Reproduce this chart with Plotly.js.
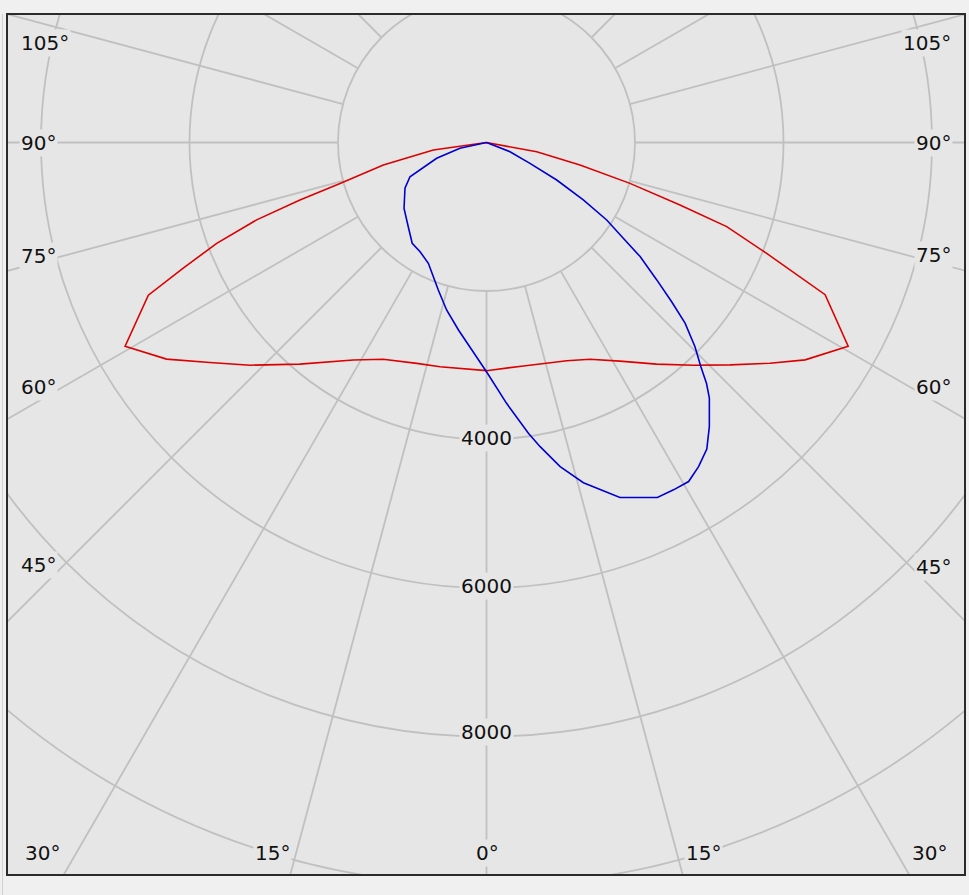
<!DOCTYPE html>
<html><head><meta charset="utf-8">
<script src="https://cdn.plot.ly/plotly-3.0.1.min.js"></script>
<style>
html,body{margin:0;padding:0;background:#f0f0f0;width:969px;height:895px;overflow:hidden;}
#edge{position:absolute;left:2px;top:14px;width:1px;height:881px;background:#d2d2d2;}
#frame{position:absolute;left:6px;top:13px;width:956px;height:859px;border:2px solid #2b2b2b;overflow:hidden;background:#e6e6e6;}
#plot{position:absolute;left:-522px;top:-873px;width:2001px;height:2001px;}
</style></head>
<body><div id="edge"></div><div id="frame"><div id="plot"></div></div>
<script>
// Gamma angles (deg, 0 = nadir, negative = left half) and luminous intensity (cd)
const redGamma = [-90, -82.0, -77.7, -74.4, -72.9, -71.4, -69.5, -67.5, -65.7, -60.6, -55.9, -51.5, -46.7, -40.1, -31.5, -25.5, -17.5, -11.7, 0, 9.4, 20.2, 25.5, 31.4, 37.5, 42.9, 47.6, 52.1, 55.7, 60.6, 65.8, 68.4, 70.7, 72.1, 74.1, 76.5, 79.6, 90];
const redIntensity = [0, 723, 1422, 2048, 2629, 3266, 3879, 4421, 4997, 5587, 5204, 4761, 4373, 3903, 3435, 3234, 3119, 3084, 3073, 3050, 3131, 3235, 3449, 3762, 4094, 4442, 4839, 5195, 5591, 5000, 4058, 3428, 2738, 2009, 1295, 687, 0];

const blueGamma = [-90, -77.7, -72.4, -65.9, -60.7, -51.4, -42.9, -36.4, -31.3, -25.7, -18.1, -13.4, -8.5, 0, 4.4, 8.2, 10.0, 12.8, 15.9, 20.6, 25.7, 28.3, 30.8, 33.2, 35.7, 38.1, 41.1, 42.4, 43.7, 45.6, 47.7, 49.3, 51.1, 53.4, 55.0, 57.2, 59.3, 61.9, 64.4, 68.6, 90];
const blueIntensity = [0, 366, 704, 1129, 1259, 1421, 1548, 1686, 1722, 1806, 2090, 2319, 2553, 3087, 3523, 3957, 4160, 4477, 4764, 5108, 5307, 5313, 5316, 5216, 5085, 4864, 4566, 4395, 4179, 3930, 3616, 3289, 2947, 2577, 2249, 1926, 1516, 1072, 649, 340, 0];

// Grid
const radialGridStart = 2000;
const radialStep = 2000;
const angularStep = 15;

// Tick labels
const radialTickLabels = ['4000', '6000', '8000'];
const leftAngleLabels = ['105°', '90°', '75°', '60°', '45°'];
const rightAngleLabels = ['105°', '90°', '75°', '60°', '45°'];
const bottomAngleLabels = ['30°', '15°', '0°', '15°', '30°'];

// Layout (page pixel positions of labels)
const leftLabelY = [42.5, 142.5, 256, 386.5, 565];
const rightLabelY = [42.5, 142.5, 255, 386.5, 566.5];
const bottomLabelX = [42.6, 272, 487.6, 703, 929];
const radialLabelY = [437.5, 586, 731.7];

const S = 2001;
const pxPer2000 = 148.5;
const rMax = (S / 2) / pxPer2000 * 2000;
const divLeft = 8 - 522, divTop = 15 - 873;
const px2x = p => (p - divLeft) / S;
const py2y = p => 1 - (p - divTop) / S;

const gridR = [], gridT = [];
for (let a = 0; a < 360; a += angularStep) {
  gridR.push(radialGridStart, rMax - 20, null);
  gridT.push(a, a, null);
}

const traces = [
  {type: 'scatterpolar', mode: 'lines', r: gridR, theta: gridT, connectgaps: false,
   line: {color: '#c0c0c0', width: 1.8}, hoverinfo: 'skip', showlegend: false},
  {type: 'scatterpolar', mode: 'lines', r: redIntensity, theta: redGamma,
   line: {color: '#dd0000', width: 1.6}, showlegend: false, name: 'C0-C180'},
  {type: 'scatterpolar', mode: 'lines', r: blueIntensity, theta: blueGamma,
   line: {color: '#0000d0', width: 1.6}, showlegend: false, name: 'C90-C270'}
];

const font = {family: 'DejaVu Sans, Verdana, sans-serif', size: 20, color: '#111'};
const ann = [];
function addAnn(text, px, py, anchor) {
  ann.push({text: text, xref: 'paper', yref: 'paper', x: px2x(px), y: py2y(py),
    xanchor: anchor, yanchor: 'middle', showarrow: false, font: font,
    bgcolor: '#e6e6e6', borderpad: 1});
}
leftAngleLabels.forEach((t, i) => addAnn(t, 19, leftLabelY[i], 'left'));
rightAngleLabels.forEach((t, i) => addAnn(t, 953, rightLabelY[i], 'right'));
bottomAngleLabels.forEach((t, i) => addAnn(t, bottomLabelX[i], 852.5, 'center'));
radialTickLabels.forEach((t, i) => addAnn(t, 486.5, radialLabelY[i], 'center'));

const layout = {
  width: S, height: S, autosize: false,
  margin: {l: 0, r: 0, t: 0, b: 0, pad: 0},
  paper_bgcolor: 'rgba(0,0,0,0)',
  showlegend: false,
  polar: {
    domain: {x: [0, 1], y: [0, 1]},
    bgcolor: '#e6e6e6',
    radialaxis: {range: [0, rMax], tick0: 0, dtick: radialStep, showgrid: true,
      gridcolor: '#c0c0c0', gridwidth: 1.8, showticklabels: false, ticks: '',
      showline: false, zeroline: false},
    angularaxis: {rotation: -90, direction: 'counterclockwise', showgrid: false,
      showticklabels: false, ticks: '', showline: false}
  },
  annotations: ann
};
Plotly.newPlot('plot', traces, layout, {staticPlot: true, displayModeBar: false});
</script></body></html>
